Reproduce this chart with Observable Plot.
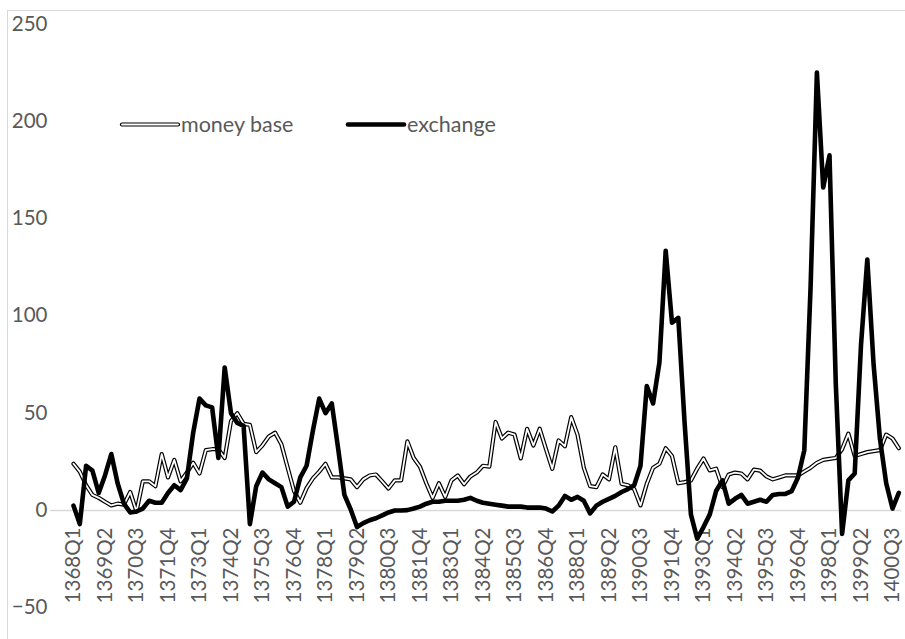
<!DOCTYPE html>
<html>
<head>
<meta charset="utf-8">
<script src="https://cdn.jsdelivr.net/npm/d3@7"></script>
<script src="https://cdn.jsdelivr.net/npm/@observablehq/plot@0.6"></script>
<style>
  body { margin: 0; background: #fff; }
  #wrap { position: relative; width: 905px; height: 639px; overflow: hidden; font-family: Lato, "Open Sans", sans-serif; }
  #frame { position: absolute; left: 7px; top: 10px; width: 1200px; height: 1200px; border-left: 1px solid #d9d9d9; border-top: 1px solid #d9d9d9; }
  #wrap svg.plot { position: absolute; left: 0; top: 0; }
  #legend { position: absolute; left: 0; top: 0; pointer-events: none; }
</style>
</head>
<body>
<div id="wrap"><div id="frame"></div></div>
<script>
// Categories: quarters 1368Q1 .. 1400Q4
const years = d3.range(1368, 1401);
const quarters = years.flatMap(y => [1, 2, 3, 4].map(q => `${y}Q${q}`));

// Tick labels shown on the category axis (every 5th quarter)
const tickLabels = ["1368Q1","1369Q2","1370Q3","1371Q4","1373Q1","1374Q2","1375Q3","1376Q4","1378Q1",
  "1379Q2","1380Q3","1381Q4","1383Q1","1384Q2","1385Q3","1386Q4","1388Q1","1389Q2","1390Q3",
  "1391Q4","1393Q1","1394Q2","1395Q3","1396Q4","1398Q1","1399Q2","1400Q3"];

const yTicks = [-50, 0, 50, 100, 150, 200, 250];

// Series: money base
const moneyBase = [
  24, 20, 13, 8, 6.5, 4.5, 2.6, 3.5, 3, 9.5,
  -0.5, 15, 15, 12.5, 29, 17, 26, 15, 19.5, 24.5,
  19, 31, 31.5, 31.5, 27, 46, 50, 44.5, 44, 30,
  33.5, 38, 40, 34, 22, 10, 4, 11.5, 16.5, 20,
  24, 17, 17, 16.5, 16, 12, 16, 18, 18.5, 15,
  11.3, 15.5, 15.5, 35.5, 27, 22.5, 14, 6.5, 14, 7,
  15.5, 18, 13.5, 17.5, 19.5, 23, 22.5, 45.5, 37, 40,
  39, 26.8, 42, 33.4, 42, 31.5, 21.4, 36, 33, 48,
  39, 22, 12.5, 12, 18.5, 16, 32.5, 13.7, 13, 11,
  2.6, 13.7, 22, 24, 32, 28, 14, 14.6, 15.4, 21.5,
  26.7, 20.6, 21.5, 12, 18.5, 19.5, 19, 16, 21, 20.5,
  17.5, 16, 17, 18, 18, 18, 20, 22, 24.5, 26,
  26.5, 27, 31.5, 39.5, 28, 29, 30, 30.5, 31, 39,
  37, 32
];

// Series: exchange
const exchange = [
  2.5, -7, 23, 20.5, 9, 18, 29, 14, 3.5, -1,
  -0.5, 1, 5, 4, 4, 9, 13, 10.5, 16.5, 40,
  57.5, 54, 53, 27, 73.5, 50, 45, 43.5, -7, 12.5,
  19.5, 16, 14, 12, 2, 4.5, 17, 23, 41, 57.5,
  50, 55, 32, 8, 0.5, -8.5, -6.5, -5, -4, -2.5,
  -1, 0, 0, 0.2, 1, 2, 3.5, 4.5, 4.5, 5,
  5, 5, 5.5, 6.5, 5, 4, 3.5, 3, 2.5, 2,
  2, 2, 1.5, 1.5, 1.5, 1, -0.5, 2.5, 7.5, 5.5,
  7, 5, -1.5, 2.5, 4.5, 6, 7.5, 9.5, 11, 13,
  23, 64, 55, 76, 133.5, 96.5, 99, 45, -2, -14.5,
  -8.5, -2, 10, 15.5, 3.5, 6, 8, 3.5, 4.5, 5.5,
  4.5, 8, 8.5, 8.5, 10, 17, 31, 115, 225, 166,
  182.5, 65, -12, 15.5, 19, 85, 129, 75, 37, 14,
  1, 9
];

const data = quarters.map((q, i) => ({ q, mb: moneyBase[i], ex: exchange[i] }));

const textColor = "#595959";
const lineOpts = { x: "q", strokeLinejoin: "round", strokeLinecap: "round" };

const chart = Plot.plot({
  width: 905,
  height: 639,
  marginLeft: 73,
  marginRight: 6.7,
  marginTop: 23.5,
  marginBottom: 31.7,
  x: { type: "point", domain: quarters, padding: 0, axis: null },
  y: { domain: [-50, 250], axis: null },
  style: { fontFamily: "Lato, 'Open Sans', sans-serif", background: "transparent", overflow: "visible" },
  marks: [
    Plot.ruleY([0], { stroke: "#d9d9d9", strokeWidth: 1.3, insetLeft: -23, insetRight: -3 }),
    Plot.axisY(yTicks, { tickSize: 0, tickPadding: 26, fontSize: 20.5, color: textColor }),
    Plot.text(tickLabels, { x: d => d, y: () => 0, rotate: -90, textAnchor: "end", dy: 17, fontSize: 20.5, fill: textColor }),
    Plot.line(data, { ...lineOpts, y: "mb", stroke: "black", strokeWidth: 4.2 }),
    Plot.line(data, { ...lineOpts, y: "mb", stroke: "white", strokeWidth: 1.8 }),
    Plot.line(data, { ...lineOpts, y: "ex", stroke: "black", strokeWidth: 4.6 })
  ]
});
chart.classList.add("plot");
document.getElementById("wrap").appendChild(chart);

// Legend (inside the plot area, as in the reference)
const legendItems = [
  { name: "money base", x: 122, double: true },
  { name: "exchange", x: 348, double: false }
];
const ns = "http://www.w3.org/2000/svg";
const lg = document.createElementNS(ns, "svg");
lg.setAttribute("id", "legend");
lg.setAttribute("width", 905);
lg.setAttribute("height", 639);
for (const it of legendItems) {
  const ly = 124.5;
  const mk = (stroke, w) => {
    const l = document.createElementNS(ns, "line");
    l.setAttribute("x1", it.x); l.setAttribute("x2", it.x + 56);
    l.setAttribute("y1", ly); l.setAttribute("y2", ly);
    l.setAttribute("stroke", stroke); l.setAttribute("stroke-width", w);
    l.setAttribute("stroke-linecap", "round");
    lg.appendChild(l);
  };
  if (it.double) { mk("black", 4.2); mk("white", 1.8); } else { mk("black", 4.6); }
  const t = document.createElementNS(ns, "text");
  t.setAttribute("x", it.x + 59);
  t.setAttribute("y", 132);
  t.setAttribute("fill", textColor);
  t.setAttribute("font-size", "21.5px");
  t.setAttribute("font-family", "Lato, 'Open Sans', sans-serif");
  t.textContent = it.name;
  lg.appendChild(t);
}
document.getElementById("wrap").appendChild(lg);
</script>
</body>
</html>
